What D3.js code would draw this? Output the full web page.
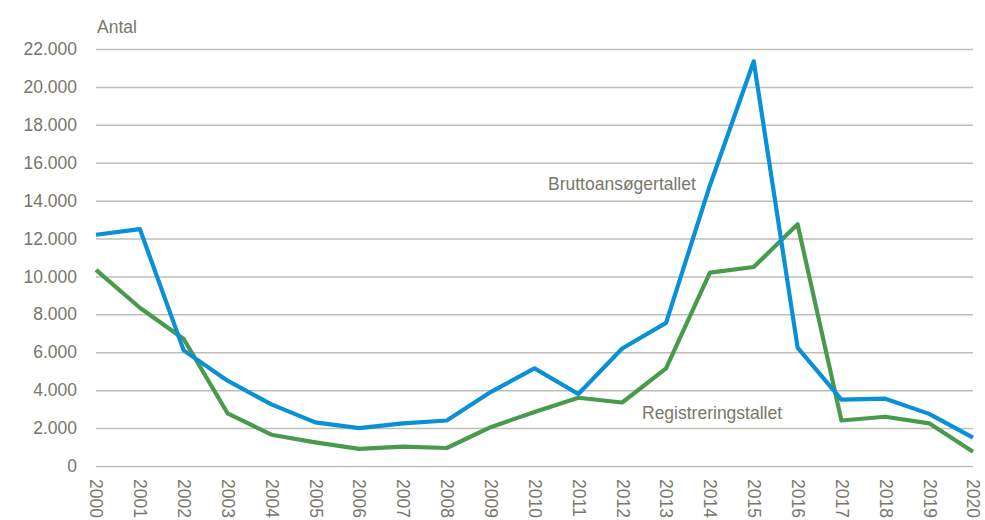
<!DOCTYPE html>
<html>
<head>
<meta charset="utf-8">
<script src="https://cdn.jsdelivr.net/npm/d3@7"></script>
<style>
  body { margin: 0; background: #fff; }
  text { font-family: "Liberation Sans", Arial, sans-serif; fill: #77776b; }
</style>
</head>
<body>
<div id="chart"></div>
<script>
const years = d3.range(2000, 2021);
const brutto = [12200, 12500, 6100, 4500, 3250, 2300, 2000, 2250, 2400, 3900, 5150, 3800,
  6200, 7550, 14800, 21350, 6250, 3500, 3550, 2750, 1500];
const registrering = [10350, 8350, 6700, 2780, 1650, 1250, 900, 1020, 950, 2050, 2850, 3600,
  3350, 5150, 10200, 10500, 12750, 2400, 2600, 2250, 750];
const yTicks = [0, 2000, 4000, 6000, 8000, 10000, 12000, 14000, 16000, 18000, 20000, 22000];

const width = 985, height = 520;
const fontSize = 17.5;
const svg = d3.select('#chart').append('svg')
  .attr('width', width)
  .attr('height', height);

const x = d3.scaleLinear().domain([2000, 2020]).range([96, 973]);
const y = d3.scaleLinear().domain([0, 22000]).range([466, 49]);

const fmt = v => v === 0 ? '0' : d3.format(',')(v).replace(/,/g, '.');

// gridlines + value labels
svg.append('g')
  .attr('transform', 'translate(96,0)')
  .call(d3.axisLeft(y).tickValues(yTicks).tickSize(-877).tickFormat(fmt).tickPadding(19))
  .call(g => g.select('.domain').remove())
  .call(g => g.selectAll('line').attr('stroke', '#bfbfb3').attr('stroke-width', 1.5))
  .call(g => g.selectAll('text').attr('font-size', fontSize).attr('font-family', null));

// year labels, rotated
svg.append('g')
  .attr('transform', 'translate(0,466)')
  .call(d3.axisBottom(x).tickValues(years).tickFormat(d3.format('d')).tickSize(0))
  .call(g => g.select('.domain').remove())
  .call(g => g.selectAll('text')
    .attr('font-size', fontSize)
    .attr('font-family', null)
    .attr('transform', 'rotate(90)')
    .attr('text-anchor', 'start')
    .attr('x', 13)
    .attr('y', 0)
    .attr('dy', '0.35em'));

const line = d3.line()
  .x((d, i) => x(years[i]))
  .y(d => y(d));

svg.append('path')
  .datum(registrering)
  .attr('fill', 'none')
  .attr('stroke', '#4a9a4e')
  .attr('stroke-width', 4.2)
  .attr('stroke-linejoin', 'round')
  .attr('d', line);

svg.append('path')
  .datum(brutto)
  .attr('fill', 'none')
  .attr('stroke', '#0a90d6')
  .attr('stroke-width', 4.2)
  .attr('stroke-linejoin', 'round')
  .attr('d', line);

svg.append('text').attr('x', 97).attr('y', 33).attr('font-size', fontSize).text('Antal');
svg.append('text').attr('x', 548).attr('y', 190).attr('font-size', fontSize).text('Bruttoansøgertallet');
svg.append('text').attr('x', 642).attr('y', 419).attr('font-size', fontSize).text('Registreringstallet');
</script>
</body>
</html>
